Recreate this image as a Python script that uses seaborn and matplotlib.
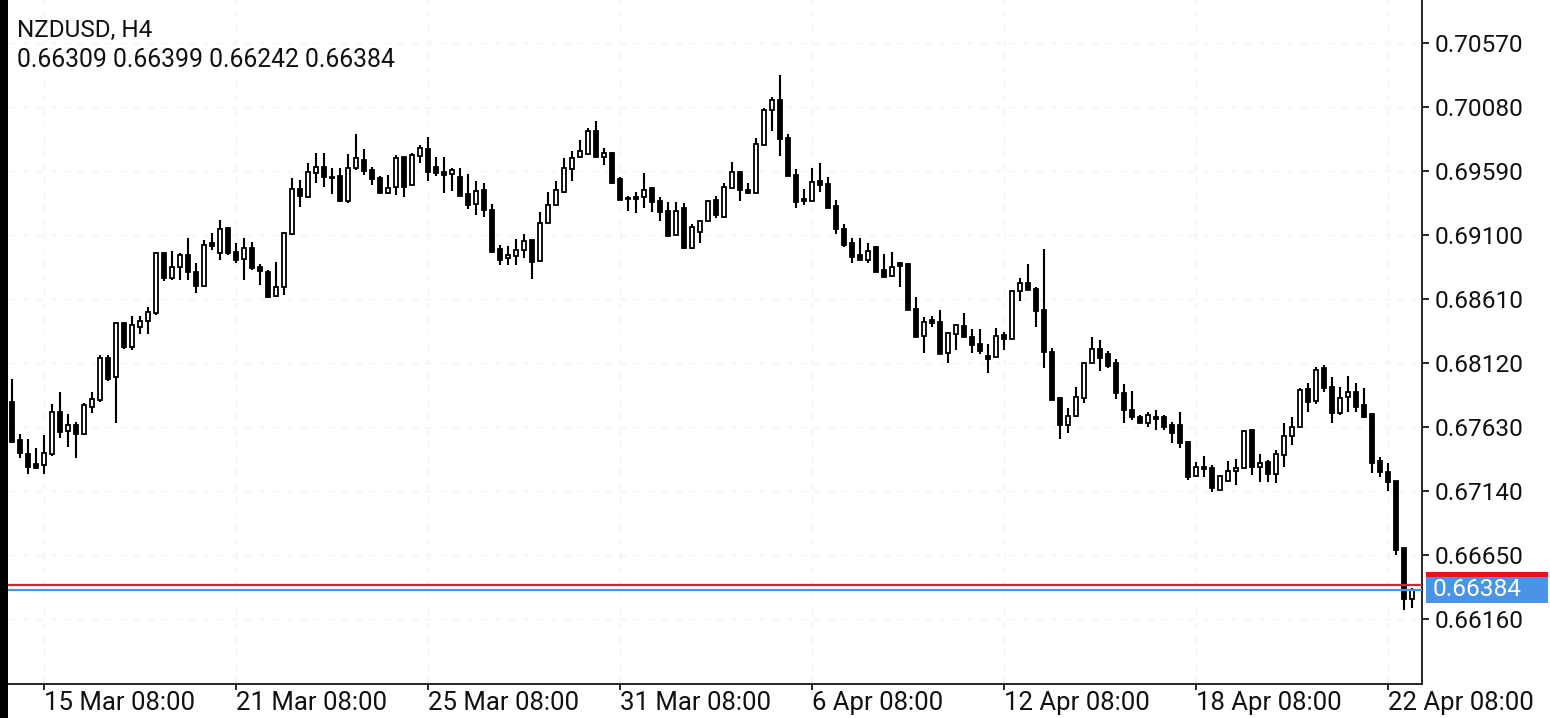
import numpy as np
import pandas as pd
import matplotlib
matplotlib.use("Agg")
import matplotlib.pyplot as plt
import matplotlib.transforms as mtransforms
from matplotlib.patches import Rectangle
import seaborn as sns

# NZDUSD H4 candles, 14 Mar 16:00 .. 22 Apr 20:00
opens = [
    0.67822, 0.67530, 0.67423, 0.67346, 0.67339, 0.67423, 0.67745, 0.67599, 0.67645, 0.67576,
    0.67783, 0.67837, 0.68158, 0.68013, 0.68426, 0.68242, 0.68396, 0.68442, 0.68503, 0.68962,
    0.68770, 0.68855, 0.68947, 0.68817, 0.68709, 0.69039, 0.68962, 0.69153, 0.68970, 0.68916,
    0.69000, 0.68855, 0.68817, 0.68633, 0.68702, 0.69107, 0.69452, 0.69391, 0.69575, 0.69620,
    0.69544, 0.69551, 0.69360, 0.69612, 0.69674, 0.69598, 0.69536, 0.69421, 0.69467, 0.69697,
    0.69483, 0.69705, 0.69758, 0.69620, 0.69582, 0.69567, 0.69544, 0.69414, 0.69337, 0.69444,
    0.69291, 0.68993, 0.68924, 0.68939, 0.68985, 0.69062, 0.68900, 0.69192, 0.69330, 0.69429,
    0.69605, 0.69697, 0.69720, 0.69896, 0.69697, 0.69728, 0.69529, 0.69383, 0.69391, 0.69391,
    0.69460, 0.69360, 0.69284, 0.69100, 0.69307, 0.69000, 0.69123, 0.69207, 0.69368, 0.69238,
    0.69460, 0.69582, 0.69444, 0.69421, 0.69789, 0.70057, 0.70133, 0.69842, 0.69559, 0.69375,
    0.69360, 0.69513, 0.69490, 0.69322, 0.69146, 0.69039, 0.68947, 0.68908, 0.69008, 0.68832,
    0.68786, 0.68885, 0.68878, 0.68533, 0.68327, 0.68449, 0.68434, 0.68197, 0.68342, 0.68403,
    0.68319, 0.68265, 0.68173, 0.68166, 0.68334, 0.68304, 0.68671, 0.68732, 0.68686, 0.68526,
    0.68204, 0.67853, 0.67645, 0.67714, 0.67853, 0.68120, 0.68227, 0.68189, 0.68120, 0.67890,
    0.67760, 0.67707, 0.67661, 0.67707, 0.67707, 0.67645, 0.67645, 0.67515, 0.67255, 0.67323,
    0.67316, 0.67148, 0.67217, 0.67293, 0.67316, 0.67607, 0.67323, 0.67362, 0.67270, 0.67416,
    0.67561, 0.67630, 0.67921, 0.67829, 0.68081, 0.67936, 0.67737, 0.67860, 0.67898, 0.67799,
    0.67730, 0.67369, 0.67285, 0.67217, 0.66703, 0.66309,
]
highs = [
    0.67998, 0.67576, 0.67538, 0.67469, 0.67569, 0.67806, 0.67898, 0.67730, 0.67669, 0.67814,
    0.67898, 0.68181, 0.68181, 0.68434, 0.68434, 0.68480, 0.68480, 0.68549, 0.68970, 0.68970,
    0.68977, 0.68962, 0.69077, 0.68885, 0.69062, 0.69115, 0.69215, 0.69158, 0.69039, 0.69077,
    0.69046, 0.68878, 0.68832, 0.68893, 0.69120, 0.69536, 0.69521, 0.69651, 0.69728, 0.69728,
    0.69612, 0.69612, 0.69720, 0.69873, 0.69758, 0.69620, 0.69551, 0.69559, 0.69712, 0.69700,
    0.69728, 0.69789, 0.69850, 0.69697, 0.69697, 0.69612, 0.69612, 0.69567, 0.69513, 0.69498,
    0.69337, 0.69023, 0.69016, 0.69069, 0.69107, 0.69065, 0.69276, 0.69429, 0.69513, 0.69689,
    0.69743, 0.69827, 0.69919, 0.69973, 0.69766, 0.69735, 0.69544, 0.69398, 0.69429, 0.69574,
    0.69467, 0.69391, 0.69353, 0.69353, 0.69345, 0.69184, 0.69215, 0.69368, 0.69398, 0.69498,
    0.69659, 0.69590, 0.69498, 0.69842, 0.70072, 0.70156, 0.70325, 0.69873, 0.69605, 0.69452,
    0.69612, 0.69651, 0.69544, 0.69368, 0.69184, 0.69077, 0.69077, 0.69039, 0.69016, 0.68954,
    0.68970, 0.68893, 0.68885, 0.68625, 0.68472, 0.68480, 0.68526, 0.68357, 0.68419, 0.68503,
    0.68380, 0.68380, 0.68265, 0.68388, 0.68357, 0.68675, 0.68770, 0.68878, 0.68702, 0.68993,
    0.68235, 0.67860, 0.67776, 0.67936, 0.68125, 0.68319, 0.68296, 0.68212, 0.68150, 0.67959,
    0.67906, 0.67722, 0.67745, 0.67760, 0.67722, 0.67669, 0.67745, 0.67520, 0.67362, 0.67408,
    0.67339, 0.67262, 0.67369, 0.67385, 0.67607, 0.67615, 0.67423, 0.67377, 0.67454, 0.67661,
    0.67707, 0.67929, 0.67967, 0.68089, 0.68104, 0.68013, 0.67936, 0.68020, 0.67967, 0.67929,
    0.67735, 0.67400, 0.67354, 0.67220, 0.66705, 0.66399,
]
lows = [
    0.67510, 0.67393, 0.67270, 0.67308, 0.67270, 0.67408, 0.67545, 0.67477, 0.67393, 0.67570,
    0.67737, 0.67822, 0.67982, 0.67661, 0.68227, 0.68219, 0.68342, 0.68342, 0.68487, 0.68747,
    0.68755, 0.68755, 0.68755, 0.68656, 0.68705, 0.68985, 0.68908, 0.68947, 0.68885, 0.68755,
    0.68832, 0.68717, 0.68620, 0.68628, 0.68640, 0.69100, 0.69314, 0.69383, 0.69498, 0.69467,
    0.69414, 0.69355, 0.69345, 0.69598, 0.69559, 0.69483, 0.69418, 0.69414, 0.69406, 0.69391,
    0.69480, 0.69651, 0.69513, 0.69551, 0.69421, 0.69437, 0.69395, 0.69299, 0.69253, 0.69238,
    0.68962, 0.68870, 0.68870, 0.68870, 0.68924, 0.68763, 0.68895, 0.69188, 0.69326, 0.69425,
    0.69513, 0.69693, 0.69712, 0.69693, 0.69636, 0.69490, 0.69365, 0.69284, 0.69268, 0.69307,
    0.69276, 0.69207, 0.69085, 0.69097, 0.68995, 0.68996, 0.69039, 0.69204, 0.69230, 0.69230,
    0.69457, 0.69360, 0.69414, 0.69418, 0.69786, 0.69896, 0.69705, 0.69548, 0.69307, 0.69330,
    0.69357, 0.69429, 0.69304, 0.69107, 0.69008, 0.68885, 0.68905, 0.68885, 0.68814, 0.68775,
    0.68778, 0.68702, 0.68523, 0.68316, 0.68197, 0.68396, 0.68186, 0.68120, 0.68219, 0.68316,
    0.68197, 0.68189, 0.68043, 0.68163, 0.68219, 0.68300, 0.68594, 0.68675, 0.68396, 0.68081,
    0.67833, 0.67538, 0.67584, 0.67710, 0.67814, 0.68117, 0.68059, 0.68081, 0.67845, 0.67661,
    0.67684, 0.67658, 0.67630, 0.67607, 0.67607, 0.67507, 0.67469, 0.67224, 0.67247, 0.67247,
    0.67132, 0.67145, 0.67214, 0.67186, 0.67313, 0.67262, 0.67209, 0.67209, 0.67201, 0.67323,
    0.67492, 0.67627, 0.67745, 0.67806, 0.67898, 0.67661, 0.67722, 0.67745, 0.67745, 0.67699,
    0.67278, 0.67247, 0.67140, 0.66650, 0.66230, 0.66242,
]
closes = [
    0.67515, 0.67431, 0.67323, 0.67316, 0.67431, 0.67745, 0.67592, 0.67645, 0.67576, 0.67799,
    0.67845, 0.68158, 0.67998, 0.68426, 0.68242, 0.68411, 0.68442, 0.68510, 0.68962, 0.68770,
    0.68855, 0.68947, 0.68817, 0.68709, 0.69023, 0.69016, 0.69146, 0.68962, 0.68908, 0.69000,
    0.68847, 0.68824, 0.68625, 0.68702, 0.69115, 0.69452, 0.69398, 0.69582, 0.69620, 0.69544,
    0.69536, 0.69360, 0.69612, 0.69689, 0.69590, 0.69529, 0.69421, 0.69460, 0.69689, 0.69467,
    0.69712, 0.69766, 0.69582, 0.69575, 0.69559, 0.69598, 0.69398, 0.69330, 0.69437, 0.69291,
    0.68970, 0.68908, 0.68947, 0.68985, 0.69054, 0.68893, 0.69192, 0.69330, 0.69444, 0.69612,
    0.69689, 0.69743, 0.69896, 0.69697, 0.69728, 0.69498, 0.69368, 0.69375, 0.69375, 0.69444,
    0.69353, 0.69276, 0.69092, 0.69284, 0.69000, 0.69161, 0.69207, 0.69360, 0.69253, 0.69467,
    0.69582, 0.69444, 0.69421, 0.69797, 0.70057, 0.70133, 0.69835, 0.69551, 0.69353, 0.69360,
    0.69506, 0.69483, 0.69307, 0.69146, 0.69023, 0.68931, 0.68908, 0.68977, 0.68817, 0.68778,
    0.68855, 0.68862, 0.68526, 0.68319, 0.68434, 0.68426, 0.68189, 0.68350, 0.68411, 0.68319,
    0.68258, 0.68212, 0.68150, 0.68327, 0.68304, 0.68671, 0.68732, 0.68679, 0.68518, 0.68204,
    0.67837, 0.67645, 0.67714, 0.67860, 0.68120, 0.68227, 0.68158, 0.68097, 0.67890, 0.67760,
    0.67707, 0.67661, 0.67722, 0.67691, 0.67630, 0.67584, 0.67507, 0.67247, 0.67323, 0.67308,
    0.67163, 0.67255, 0.67293, 0.67316, 0.67599, 0.67323, 0.67354, 0.67270, 0.67423, 0.67561,
    0.67630, 0.67913, 0.67822, 0.68066, 0.67929, 0.67737, 0.67853, 0.67898, 0.67783, 0.67707,
    0.67354, 0.67285, 0.67209, 0.66688, 0.66309, 0.66384,
]

symbol_label = "NZDUSD, H4"
date_ticks = [4, 28, 52, 76, 100, 124, 148, 172]
date_labels = ["15 Mar 08:00", "21 Mar 08:00", "25 Mar 08:00", "31 Mar 08:00",
               "6 Apr 08:00", "12 Apr 08:00", "18 Apr 08:00", "22 Apr 08:00"]
price_ticks = [0.66160, 0.66650, 0.67140, 0.67630, 0.68120, 0.68610,
               0.69100, 0.69590, 0.70080, 0.70570]
bid_price = 0.66384
ask_price = 0.66420

df = pd.DataFrame({"open": opens, "high": highs, "low": lows, "close": closes})
df["bar"] = np.arange(len(df))
df["up"] = df["close"] >= df["open"]

sns.set_theme(style="white")
plt.rcParams["font.family"] = ["Roboto", "DejaVu Sans"]

W, H = 1550, 718
fig = plt.figure(figsize=(W / 100, H / 100), dpi=100)
fig.patch.set_facecolor("white")
ax = fig.add_axes([8 / W, 34 / H, (1422 - 8) / W, 684 / H])
ax.set_facecolor("white")

# wicks then bodies
ax.vlines(df["bar"], df["low"], df["high"], color="black", lw=1.5, zorder=3)
ax.bar(df["bar"], df["close"] - df["open"], bottom=df["open"], width=0.62,
       color=np.where(df["up"], "white", "black"), edgecolor="black",
       linewidth=1.3, zorder=4)

ax.axhline(ask_price, color="#cc2a2a", lw=1.6, zorder=5)
ax.axhline(bid_price, color="#4a93e6", lw=1.6, zorder=5)

ax.set_xlim(-0.5, 176.25)
ax.set_ylim(0.65662, 0.70899)

ax.grid(True, color="#f3f3f3", linestyle=(0, (5, 5)), lw=1.0, zorder=0)
ax.set_axisbelow(True)

ax.yaxis.tick_right()
ax.set_yticks(price_ticks)
ax.set_yticklabels([f"{p:.5f}" for p in price_ticks])
ax.set_xticks(date_ticks)
ax.set_xticklabels(date_labels, ha="left")
ax.tick_params(axis="y", which="both", right=True, length=5, width=1.2,
               color="black", labelsize=17.6, pad=4, labelcolor="#111111")
ax.tick_params(axis="x", which="both", bottom=True, length=4, width=1.2,
               color="black", labelsize=18.5, pad=1, labelcolor="#111111")

for side in ["left", "top"]:
    ax.spines[side].set_visible(False)
for side in ["right", "bottom"]:
    ax.spines[side].set_visible(True)
    ax.spines[side].set_color("black")
    ax.spines[side].set_linewidth(1.2)

# header text
fig.text(17 / W, 1 - 30 / H, symbol_label, fontsize=17.5, va="center", ha="left", color="#111111")
fig.text(17 / W, 1 - 60 / H, " ".join(f"{v:.5f}" for v in (opens[-1], highs[-1], lows[-1], closes[-1])),
         fontsize=17.8, va="center", ha="left", color="#111111")

# left dark strip
fig.patches.append(Rectangle((0, 0), 8 / W, 1, transform=fig.transFigure,
                             facecolor="black", edgecolor="none", zorder=10))

# price tags on the right scale
fig.canvas.draw()
ident = mtransforms.IdentityTransform()
ask_y = ax.transData.transform((0, ask_price))[1]
bid_y = ax.transData.transform((0, bid_price))[1]
fig.patches.append(Rectangle((1426, ask_y - 13), 122, 26, transform=ident,
                             facecolor="#e3141b", edgecolor="none", zorder=10))
fig.patches.append(Rectangle((1426, bid_y - 13), 122, 26, transform=ident,
                             facecolor="#4a93e6", edgecolor="none", zorder=11))
fig.text(1433 / W, bid_y / H, f"{bid_price:.5f}", fontsize=17.6, color="white",
         va="center", ha="left", zorder=12)

fig.savefig("out.png", dpi=100)
